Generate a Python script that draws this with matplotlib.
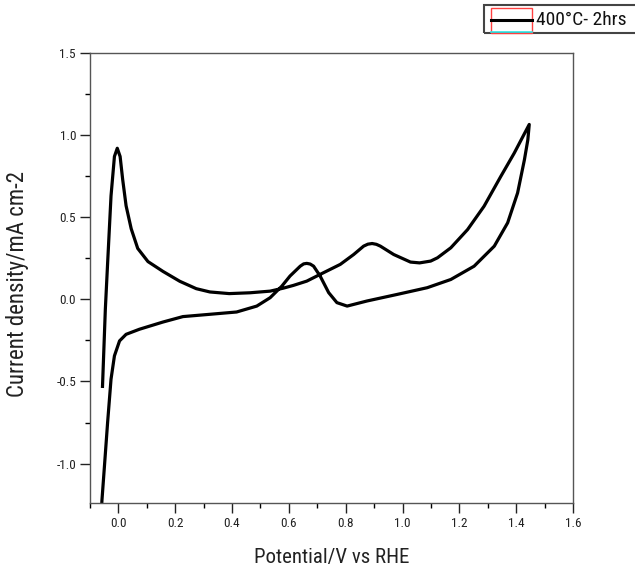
import matplotlib
matplotlib.use("Agg")
import matplotlib.pyplot as plt
from matplotlib.patches import Rectangle
from matplotlib.lines import Line2D
from matplotlib.ticker import MultipleLocator, FormatStrFormatter

# ---- data ----
potential = [-0.056, -0.046, -0.038, -0.026, -0.014, -0.004, 0.006, 0.015, 0.027,
             0.045, 0.068, 0.104, 0.157, 0.216, 0.274, 0.322, 0.390, 0.463, 0.534,
             0.580, 0.616, 0.663, 0.710, 0.781, 0.828, 0.863, 0.878, 0.893, 0.908,
             0.922, 0.969, 1.028, 1.060, 1.099, 1.123, 1.170, 1.229, 1.287, 1.346,
             1.393, 1.446,
             1.441, 1.429, 1.405, 1.370, 1.323, 1.252, 1.170, 1.087, 0.981, 0.875,
             0.805, 0.769, 0.740, 0.710, 0.687, 0.675, 0.663, 0.652, 0.640, 0.604,
             0.575, 0.534, 0.487, 0.416, 0.322, 0.227, 0.157, 0.074, 0.027, 0.004,
             -0.014, -0.026, -0.038, -0.049, -0.058, -0.060]
current = [-0.53, -0.06, 0.22, 0.63, 0.87, 0.92, 0.87, 0.73, 0.57,
           0.43, 0.31, 0.23, 0.17, 0.11, 0.065, 0.045, 0.035, 0.040, 0.050,
           0.068, 0.085, 0.111, 0.152, 0.213, 0.273, 0.324, 0.336, 0.340, 0.335,
           0.324, 0.273, 0.227, 0.222, 0.233, 0.253, 0.314, 0.425, 0.567, 0.749,
           0.890, 1.065,
           0.971, 0.850, 0.648, 0.466, 0.324, 0.202, 0.121, 0.071, 0.030, -0.010,
           -0.041, -0.020, 0.041, 0.142, 0.202, 0.215, 0.219, 0.216, 0.202, 0.142,
           0.080, 0.010, -0.041, -0.077, -0.091, -0.105, -0.138, -0.182, -0.213, -0.253,
           -0.344, -0.486, -0.749, -1.012, -1.225, -1.300]
series_label = "400\u00b0C- 2hrs"
x_label = "Potential/V vs RHE"
y_label = "Current density/mA cm-2"

W, H = 635, 577
FONT = ["Roboto Condensed", "Liberation Sans", "DejaVu Sans"]
plt.rcParams["font.family"] = FONT

fig = plt.figure(figsize=(W / 100, H / 100), dpi=100)
ax = fig.add_axes([90 / W, 1 - 503 / H, (573 - 90) / W, (503 - 53) / H])

ax.plot(potential, current, color="black", lw=2.3, solid_joinstyle="round")

ax.set_xlim(-0.1, 1.6)
ax.set_ylim(-1.24, 1.5)
ax.xaxis.set_major_locator(MultipleLocator(0.2))
ax.xaxis.set_minor_locator(MultipleLocator(0.1))
ax.yaxis.set_major_locator(MultipleLocator(0.5))
ax.yaxis.set_minor_locator(MultipleLocator(0.25))
ax.xaxis.set_major_formatter(FormatStrFormatter("%.1f"))
ax.yaxis.set_major_formatter(FormatStrFormatter("%.1f"))
ax.set_xticks([t / 10 for t in range(0, 17, 2)])
ax.tick_params(which="major", direction="out", length=7, width=1.0, labelsize=9.5,
               pad=3, colors="#222222")
ax.tick_params(which="minor", direction="out", length=3.5, width=1.0)
for s in ax.spines.values():
    s.set_color("#555555")
    s.set_linewidth(1.0)

fig.text(332 / W, 1 - 557 / H, x_label, ha="center", va="center", fontsize=15,
         color="#222222")
fig.text(18 / W, 1 - 284 / H, y_label, ha="center", va="center", rotation=90,
         fontsize=16.5, color="#222222")

# legend box (Origin-style, at top right)
fig.patches.append(Rectangle((484 / W, 1 - 33 / H), (640 - 484) / W, 28 / H,
                             transform=fig.transFigure, fill=False,
                             edgecolor="#444444", lw=1.5))
fig.patches.append(Rectangle((491 / W, 1 - 33 / H), (532 - 491) / W, 25 / H,
                             transform=fig.transFigure, fill=False,
                             edgecolor="#ff4040", lw=1.0))
fig.lines.append(Line2D([491 / W, 532 / W], [1 - 32 / H, 1 - 32 / H],
                        transform=fig.transFigure, color="#33e6e6", lw=1.2))
fig.lines.append(Line2D([491 / W, 532 / W], [1 - 20 / H, 1 - 20 / H],
                        transform=fig.transFigure, color="black", lw=2.2))
fig.text(536 / W, 1 - 20 / H, series_label, ha="left", va="center", fontsize=14,
         color="#111111")

fig.savefig("out.png", dpi=100)
